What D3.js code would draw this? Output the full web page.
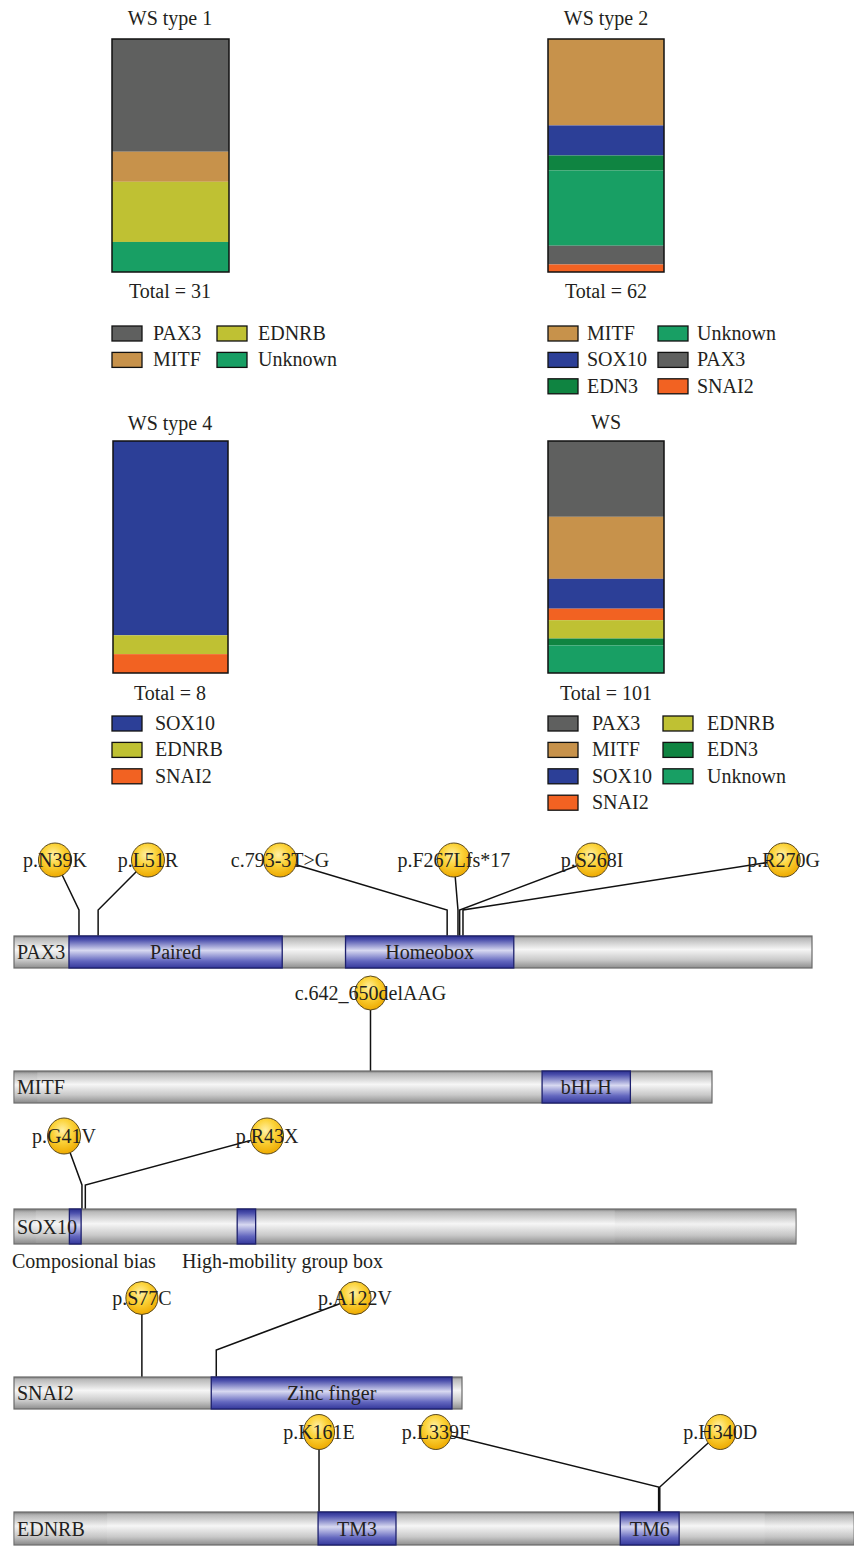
<!DOCTYPE html>
<html><head><meta charset="utf-8">
<script src="https://cdn.jsdelivr.net/npm/d3@7"></script>
<style>
body{margin:0;background:#fff}
svg{display:block}
text{font-family:"Liberation Serif","Times New Roman",serif;fill:#231f20;font-size:20px}
</style>
</head><body><svg id="c" width="854" height="1546"></svg>
<script>
// ---------------- DATA ----------------
const panelTitles = ["WS type 1", "WS type 2", "WS type 4", "WS"];
const panelTotals = [31, 62, 8, 101];
const ws1Genes = ["PAX3", "MITF", "EDNRB", "Unknown"];
const ws1Values = [15, 4, 8, 4];
const ws2Genes = ["MITF", "SOX10", "EDN3", "Unknown", "PAX3", "SNAI2"];
const ws2Values = [23, 8, 4, 20, 5, 2];
const ws4Genes = ["SOX10", "EDNRB", "SNAI2"];
const ws4Values = [6.7, 0.65, 0.65];
const wsGenes = ["PAX3", "MITF", "SOX10", "SNAI2", "EDNRB", "EDN3", "Unknown"];
const wsValues = [33, 27, 13, 5, 8, 3, 12];
const geneNames = ["PAX3", "MITF", "EDNRB", "Unknown", "SOX10", "EDN3", "SNAI2"];
const geneColorList = ["#5f605f", "#c7924b", "#bfc133", "#189f64", "#2c3f97", "#0f8441", "#f26222"];

// proteins: names, lengths (aa)
const proteinNames = ["PAX3", "MITF", "SOX10", "SNAI2", "EDNRB"];
const proteinLengths = [479, 419, 466, 268, 442];
// domains [name, start, end] (aa)
const pax3Domains = [["Paired", 33, 161], ["Homeobox", 199, 300]];
const mitfDomains = [["bHLH", 317, 370]];
const sox10Domains = [["Composional bias", 33, 40], ["High-mobility group box", 133, 144]];
const snai2Domains = [["Zinc finger", 118, 262]];
const ednrbDomains = [["TM3", 160, 201], ["TM6", 319, 350]];
// lighter sub-regions [start, end] (aa)
const pax3Regions = [];
const mitfRegions = [[0, 14]];
const sox10Regions = [[0, 13], [358, 466]];
const snai2Regions = [];
const ednrbRegions = [[0, 49], [395, 442]];
// mutations [label, aa position, label anchor (aa)]
const pax3Mutations = [["p.N39K", 39, 24.6], ["p.L51R", 50.5, 80.4], ["c.793-3T>G", 260, 159.7],
  ["p.F267Lfs*17", 266.5, 264], ["p.S268I", 267.5, 347], ["p.R270G", 269.5, 462]];
const mitfMutations = [["c.642_650delAAG", 214, 214]];
const sox10Mutations = [["p.G41V", 40.5, 29.8], ["p.R43X", 42.5, 150.8]];
const snai2Mutations = [["p.S77C", 76.5, 76.5], ["p.A122V", 121, 204]];
const ednrbMutations = [["p.K161E", 160.5, 160.5], ["p.L339F", 339.2, 222], ["p.H340D", 339.8, 371.6]];

// ---------------- LAYOUT ----------------
const color = d3.scaleOrdinal().domain(geneNames).range(geneColorList);
const svg = d3.select("#c");

const panelLayout = [
  {x: 112, w: 117, top: 39, bottom: 272, cx: 170, titleY: 25, totalY: 298, legX: [112, 217], textDx: 41, legY: 326, rows: 2},
  {x: 548, w: 116, top: 39, bottom: 272, cx: 606, titleY: 25, totalY: 298, legX: [548, 658], textDx: 39, legY: 326, rows: 3},
  {x: 113, w: 115, top: 441, bottom: 673, cx: 170, titleY: 430, totalY: 700, legX: [112], textDx: 43, legY: 716, rows: 3},
  {x: 548, w: 116, top: 441, bottom: 673, cx: 606, titleY: 429, totalY: 700, legX: [548, 663], textDx: 44, legY: 716, rows: 4}
];
const panelGenes = [ws1Genes, ws2Genes, ws4Genes, wsGenes];
const panelValues = [ws1Values, ws2Values, ws4Values, wsValues];

panelLayout.forEach((L, pi) => {
  const genes = panelGenes[pi], vals = panelValues[pi];
  const sum = d3.sum(vals);
  const y = d3.scaleLinear().domain([0, sum]).range([L.top, L.bottom]);
  const cum = d3.cumsum(vals);
  const segs = vals.map((v, i) => ({gene: genes[i], y0: cum[i] - v, y1: cum[i]}));
  const g = svg.append("g");
  g.selectAll("rect.seg").data(segs).join("rect")
    .attr("x", L.x).attr("width", L.w)
    .attr("y", d => y(d.y0)).attr("height", d => y(d.y1) - y(d.y0))
    .attr("fill", d => color(d.gene));
  g.append("rect").attr("x", L.x).attr("y", L.top).attr("width", L.w).attr("height", L.bottom - L.top)
    .attr("fill", "none").attr("stroke", "#111").attr("stroke-width", 1.5);
  g.append("text").attr("x", L.cx).attr("y", L.titleY).attr("text-anchor", "middle").text(panelTitles[pi]);
  g.append("text").attr("x", L.cx).attr("y", L.totalY).attr("text-anchor", "middle").text("Total = " + panelTotals[pi]);
  const rowStep = 26.4;
  genes.forEach((gn, i) => {
    const col = Math.floor(i / L.rows), row = i % L.rows;
    const lx = L.legX[col], ly = L.legY + row * rowStep;
    g.append("rect").attr("x", lx).attr("y", ly).attr("width", 30).attr("height", 15)
      .attr("fill", color(gn)).attr("stroke", "#111").attr("stroke-width", 1.3);
    g.append("text").attr("x", lx + L.textDx).attr("y", ly + 14).text(gn);
  });
});

// gradients
const defs = svg.append("defs");
function lin(id, stops) {
  const gr = defs.append("linearGradient").attr("id", id).attr("x1", 0).attr("y1", 0).attr("x2", 0).attr("y2", 1);
  stops.forEach(s => gr.append("stop").attr("offset", s[0]).attr("stop-color", s[1]));
}
lin("gray", [[0, "#7d7d7d"], [0.08, "#b9b9b9"], [0.42, "#f6f6f6"], [0.75, "#c9c9c9"], [1, "#8e8e8e"]]);
lin("gray2", [[0, "#6f6f6f"], [0.1, "#aaaaaa"], [0.45, "#ececec"], [0.78, "#bdbdbd"], [1, "#808080"]]);
lin("blue", [[0, "#2b2f8f"], [0.12, "#4d51ad"], [0.45, "#d8d9f1"], [0.78, "#6367bf"], [1, "#34389b"]]);
const rg = defs.append("radialGradient").attr("id", "yel").attr("cx", "45%").attr("cy", "35%").attr("r", "65%");
[[0, "#fff0a6"], [0.45, "#fcd43c"], [1, "#eeaa00"]].forEach(s => rg.append("stop").attr("offset", s[0]).attr("stop-color", s[1]));

const proteinLayout = [
  {x1: 812, top: 936, h: 32, headY: 860, elbowY: 910, rx: 16.5, ry: 17},
  {x1: 712, top: 1071, h: 32, headY: 993, elbowY: 1040, rx: 15.5, ry: 17},
  {x1: 796, top: 1209, h: 35, headY: 1136, elbowY: 1185, rx: 16.5, ry: 18},
  {x1: 462, top: 1377, h: 32, headY: 1298, elbowY: 1350, rx: 16, ry: 16.5},
  {x1: 854, top: 1512, h: 33, headY: 1432, elbowY: 1487, rx: 15.5, ry: 17.5}
];
const proteinDomains = [pax3Domains, mitfDomains, sox10Domains, snai2Domains, ednrbDomains];
const proteinRegions = [pax3Regions, mitfRegions, sox10Regions, snai2Regions, ednrbRegions];
const proteinMutations = [pax3Mutations, mitfMutations, sox10Mutations, snai2Mutations, ednrbMutations];
// domain labels placed below the bar (SOX10)
const belowLabelX = {"Composional bias": 12, "High-mobility group box": 182};

proteinLayout.forEach((L, pi) => {
  const x = d3.scaleLinear().domain([0, proteinLengths[pi]]).range([14, L.x1]);
  const g = svg.append("g");
  const muts = proteinMutations[pi];
  // stems
  g.selectAll("path.stem").data(muts).join("path")
    .attr("d", d => `M${x(d[2])},${L.headY}L${x(d[1])},${L.elbowY}L${x(d[1])},${L.top}`)
    .attr("fill", "none").attr("stroke", "#111").attr("stroke-width", 1.5);
  // bar
  g.append("rect").attr("x", x(0)).attr("y", L.top).attr("width", x(proteinLengths[pi]) - x(0)).attr("height", L.h)
    .attr("fill", "url(#gray)").attr("stroke", "#6a6a6a").attr("stroke-width", 1.2);
  g.selectAll("rect.reg").data(proteinRegions[pi]).join("rect")
    .attr("x", d => x(d[0])).attr("width", d => x(d[1]) - x(d[0]))
    .attr("y", L.top + 0.6).attr("height", L.h - 1.2).attr("fill", "url(#gray2)").attr("opacity", 0.35);
  const doms = proteinDomains[pi];
  g.selectAll("rect.dom").data(doms).join("rect")
    .attr("x", d => x(d[1])).attr("width", d => x(d[2]) - x(d[1]))
    .attr("y", L.top).attr("height", L.h)
    .attr("fill", "url(#blue)").attr("stroke", "#1d206e").attr("stroke-width", 1.3);
  // protein name
  g.append("text").attr("x", 17).attr("y", L.top + L.h / 2 + 7).text(proteinNames[pi]);
  // domain labels
  doms.forEach(d => {
    if (belowLabelX[d[0]] !== undefined) {
      g.append("text").attr("x", belowLabelX[d[0]]).attr("y", L.top + L.h + 24).text(d[0]);
    } else {
      g.append("text").attr("x", (x(d[1]) + x(d[2])) / 2).attr("y", L.top + L.h / 2 + 7)
        .attr("text-anchor", "middle").text(d[0]);
    }
  });
  // heads
  g.selectAll("ellipse.head").data(muts).join("ellipse")
    .attr("cx", d => x(d[2])).attr("cy", L.headY).attr("rx", L.rx).attr("ry", L.ry)
    .attr("fill", "url(#yel)").attr("stroke", "#5a4a20").attr("stroke-width", 1);
  g.selectAll("text.mut").data(muts).join("text")
    .attr("x", d => x(d[2])).attr("y", L.headY + 7).attr("text-anchor", "middle").text(d => d[0]);
});
</script></body></html>
